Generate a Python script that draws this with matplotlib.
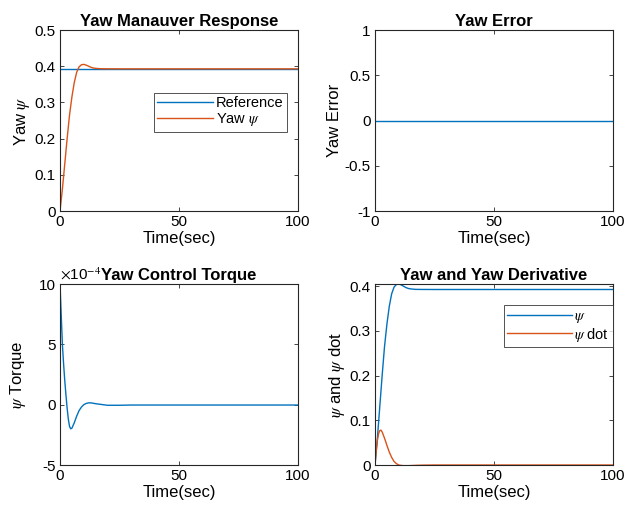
import matplotlib
matplotlib.use("Agg")
import matplotlib.pyplot as plt
import numpy as np

plt.rcParams['font.family'] = ['Liberation Sans', 'DejaVu Sans']
plt.rcParams['mathtext.fontset'] = 'stix'
plt.rcParams['axes.unicode_minus'] = False

BLUE = '#0072BD'
ORANGE = '#D95319'

# ---- data ----
t_psi = [0, 1, 2, 3, 4, 5, 6, 7, 8, 9, 10, 11, 12, 13, 14, 15, 17, 20, 25, 30, 100]
psi = [0, 0.06, 0.13, 0.20, 0.265, 0.315, 0.355, 0.383, 0.398, 0.404, 0.405,
       0.403, 0.400, 0.397, 0.395, 0.394, 0.393, 0.3928, 0.3927, 0.3927, 0.3927]
t_ref = [0, 100]
ref = [0.3927, 0.3927]

t_err = [0, 100]
err = [0, 0]

t_tq = [0, 0.5, 1, 1.5, 2, 2.5, 3, 3.5, 4, 4.5, 5, 6, 7, 8, 9, 10, 11, 12, 13,
        15, 18, 20, 25, 30, 100]
torque_e4 = [10, 7.5, 5.0, 3.4, 2.0, 0.8, -0.3, -1.2, -1.8, -2.0, -1.95, -1.5,
             -0.95, -0.5, -0.2, 0.0, 0.1, 0.15, 0.15, 0.08, 0.0, -0.05, -0.05,
             -0.03, -0.03]

t_dot = [0, 0.5, 1, 1.5, 2, 2.5, 3, 4, 5, 6, 7, 8, 9, 10, 11, 12, 14, 17, 20, 25, 100]
psi_dot = [0, 0.03, 0.055, 0.07, 0.077, 0.078, 0.074, 0.06, 0.044, 0.029, 0.017,
           0.008, 0.003, 0.0, -0.001, -0.0015, -0.0015, -0.0008, -0.0003, 0, 0]

xticks = [0, 50, 100]

fig = plt.figure(figsize=(6.27, 5.11), dpi=100)
W, H = 627, 511

TICK = 11
LAB = 12


def mkax(x0, y0, x1, y1):
    return fig.add_axes([x0 / W, 1 - y1 / H, (x1 - x0) / W, (y1 - y0) / H])


def style(ax):
    for s in ax.spines.values():
        s.set_color('#262626')
        s.set_linewidth(0.8)
    ax.tick_params(direction='in', length=3, width=0.6, top=True, right=True,
                   labelsize=TICK, colors='#262626', labelcolor='black', pad=3)
    ax.set_xlim(0, 100)
    ax.set_xticks(xticks)
    ax.set_xlabel('Time(sec)', fontsize=LAB, labelpad=1)


ax1 = mkax(60, 30, 298, 211)
ax2 = mkax(375, 30, 613, 211)
ax3 = mkax(60, 284, 298, 465)
ax4 = mkax(375, 284, 613, 465)

# Top-left
ax1.plot(t_ref, ref, color=BLUE, lw=1, label='Reference')
ax1.plot(t_psi, psi, color=ORANGE, lw=1, label=r'Yaw $\psi$')
style(ax1)
ax1.set_ylim(0, 0.5)
ax1.set_yticks([0, 0.1, 0.2, 0.3, 0.4, 0.5])
ax1.set_yticklabels(['0', '0.1', '0.2', '0.3', '0.4', '0.5'])
ax1.set_ylabel(r'Yaw $\psi$', fontsize=LAB, labelpad=2)
ax1.set_title('Yaw Manauver Response', fontsize=LAB, fontweight='bold', pad=3)
lg = ax1.legend(loc='upper right', bbox_to_anchor=(0.954, 0.654), fontsize=10.5,
                handlelength=3.8, fancybox=False, edgecolor='#262626',
                borderpad=0.25, labelspacing=0.05, handletextpad=0.2, borderaxespad=0)
lg.get_frame().set_linewidth(0.7)

# Top-right
ax2.plot(t_err, err, color=BLUE, lw=1)
style(ax2)
ax2.set_ylim(-1, 1)
ax2.set_yticks([-1, -0.5, 0, 0.5, 1])
ax2.set_yticklabels(['-1', '-0.5', '0', '0.5', '1'])
ax2.set_ylabel('Yaw Error', fontsize=LAB, labelpad=2)
ax2.set_title('Yaw Error', fontsize=LAB, fontweight='bold', pad=3)

# Bottom-left
ax3.plot(t_tq, torque_e4, color=BLUE, lw=1)
style(ax3)
ax3.set_ylim(-5, 10)
ax3.set_yticks([-5, 0, 5, 10])
ax3.set_yticklabels(['-5', '0', '5', '10'])
ax3.set_ylabel(r'$\psi$ Torque', fontsize=LAB, labelpad=8)
ax3.set_title('Yaw Control Torque', fontsize=LAB, fontweight='bold', pad=3)
ax3.text(0.0, 1.005, r'$\times$10$^{-4}$', transform=ax3.transAxes,
         fontsize=TICK, ha='left', va='bottom')

# Bottom-right
ax4.plot(t_psi, psi, color=BLUE, lw=1, label=r'$\psi$')
ax4.plot(t_dot, psi_dot, color=ORANGE, lw=1, label=r'$\psi$ dot')
style(ax4)
ax4.set_ylim(0, 0.405)
ax4.set_yticks([0, 0.1, 0.2, 0.3, 0.4])
ax4.set_yticklabels(['0', '0.1', '0.2', '0.3', '0.4'])
ax4.set_ylabel(r'$\psi$ and $\psi$ dot', fontsize=LAB, labelpad=2)
ax4.set_title('Yaw and Yaw Derivative', fontsize=LAB, fontweight='bold', pad=3)
lg = ax4.legend(loc='upper right', bbox_to_anchor=(1.0, 0.883), fontsize=10.5,
                handlelength=4.4, fancybox=False, edgecolor='#262626',
                borderpad=0.25, labelspacing=0.05, handletextpad=0.2, borderaxespad=0)
lg.get_frame().set_linewidth(0.7)

fig.savefig('out.png', dpi=100)
